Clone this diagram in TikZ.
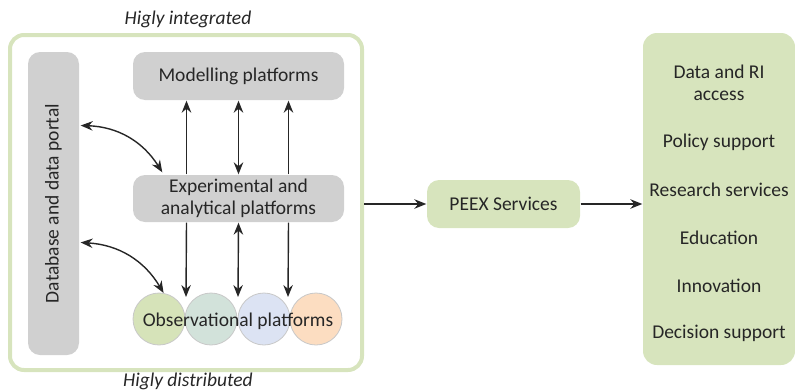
\documentclass[tikz,border=0pt]{standalone}
\usepackage{fontspec}
\setmainfont{Carlito}
\usetikzlibrary{arrows.meta, positioning, calc}
\definecolor{cgreen}{HTML}{D7E4BD}
\definecolor{cgrey}{HTML}{D0D0D0}
\definecolor{ctext}{HTML}{262626}
\definecolor{ccirc}{HTML}{C8C8C8}
\definecolor{obsa}{HTML}{D6E3B9}
\definecolor{obsb}{HTML}{D2E2DA}
\definecolor{obsc}{HTML}{DCE3F3}
\definecolor{obsd}{HTML}{FCDDC1}
\tikzset{
  every picture/.style={font=\fontsize{19.5}{22}\selectfont, text=ctext, line width=1.4pt},
  every node/.style={align=center},
  box/.style={draw=none, fill=#1, rounded corners=12pt, align=center, inner sep=0pt},
  box/.default=cgrey,
  tip/.style={Stealth[length=12pt, width=9.5pt, inset=4pt]},
  arrow/.style={-{Stealth[length=12pt, width=9.5pt, inset=4pt]}, draw=ctext, line width=1.4pt},
  darrow/.style={{Stealth[length=12pt, width=9.5pt, inset=4pt]}-{Stealth[length=12pt, width=9.5pt, inset=4pt]}, draw=ctext, line width=1.4pt},
  obs/.style={circle, draw=ccirc, line width=0.8pt, fill=#1, minimum size=52pt, inner sep=0pt},
  note/.style={font=\fontsize{19.5}{22}\selectfont\itshape},
}
\begin{document}
\begin{tikzpicture}[x=1pt, y=-1pt]
  \useasboundingbox (0,0) rectangle (795,391);
  % left block
  \node[draw=cgreen, line width=4pt, rounded corners=14pt, minimum width=352pt, minimum height=335pt] (frame) at (186, 202.5) {};
  \node[note] (top) at (188, 19) {Higly integrated};
  \node[note] (bot) at (188, 381) {Higly distributed};
  \node[box, minimum width=51pt, minimum height=303pt] (db) at (53.5, 203.5) {};
  \node[rotate=90] (dbtext) at (db.center) {Database and data portal};
  \node[box, minimum width=211pt, minimum height=48pt] (mod) at (238.5, 76) {Modelling platforms};
  \node[box, minimum width=211pt, minimum height=47pt] (exp) at (238.5, 198.5) {Experimental and\\analytical platforms};
  \node[obs=obsa] (c1) at (159, 319) {};
  \node[obs=obsb] (c2) at (211, 319) {};
  \node[obs=obsc] (c3) at (264, 319) {};
  \node[obs=obsd] (c4) at (316, 319) {};
  \node (obstext) at (238, 321) {Observational platforms};
  \coordinate (obstop) at (238, 297);
  % links inside the block
  \draw[arrow] ([xshift=-52pt]exp.north) -- ([xshift=-52pt]mod.south);
  \draw[darrow] (exp.north) -- (mod.south);
  \draw[arrow] ([xshift=50pt]exp.north) -- ([xshift=50pt]mod.south);
  \draw[arrow] ([xshift=-52pt]exp.south) -- ([xshift=-52pt]obstop);
  \draw[darrow] (exp.south) -- (obstop);
  \draw[arrow] ([xshift=50pt]exp.south) -- ([xshift=50pt]obstop);
  \draw[darrow] ([xshift=1pt, yshift=78pt]db.east) to[bend left=28] ([xshift=30pt, yshift=2pt]exp.north west);
  \draw[darrow] ([xshift=1pt, yshift=-39pt]db.east) to[bend left=28] (c1.80);
  % services
  \node[box=cgreen, minimum width=153pt, minimum height=48pt] (peex) at (503.5, 204) {PEEX Services};
  \node[box=cgreen, rounded corners=14pt, minimum width=152pt, minimum height=332pt] (svc) at (719, 199) {};
  \node (s1) at (719, 83) {Data and RI\\access};
  \node (s2) at (719, 142) {Policy support};
  \node (s3) at (719, 190) {Research services};
  \node (s4) at (719, 238) {Education};
  \node (s5) at (719, 286) {Innovation};
  \node (s6) at (719, 333) {Decision support};
  \draw[arrow] (frame.east |- peex.west) -- (peex.west);
  \draw[arrow] (peex.east) -- (peex.east -| svc.west);
\end{tikzpicture}
\end{document}
